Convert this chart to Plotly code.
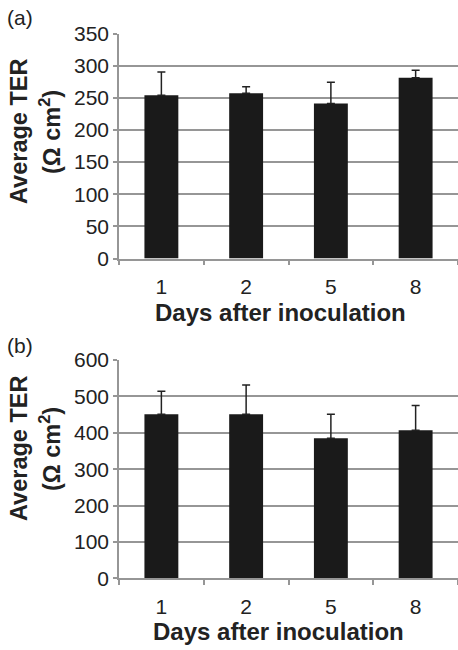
import plotly.graph_objects as go

days = ["1", "2", "5", "8"]
ter_a = [254, 257, 241, 281]
err_a = [36, 10, 33, 12]
ter_b = [451, 451, 385, 407]
err_b = [63, 80, 66, 68]
yticks_a = [0, 50, 100, 150, 200, 250, 300, 350]
yticks_b = [0, 100, 200, 300, 400, 500, 600]

W, H = 458, 650
FONT = "Liberation Sans, Arial, sans-serif"
TXT = "#222222"
GRID = "#969696"

fig = go.Figure()
for i, (vals, errs) in enumerate([(ter_a, err_a), (ter_b, err_b)]):
    fig.add_trace(go.Bar(
        x=days, y=vals,
        xaxis="x" if i == 0 else "x2",
        yaxis="y" if i == 0 else "y2",
        marker=dict(color="#1a1a1a", line=dict(width=0)),
        error_y=dict(type="data", array=errs, arrayminus=[0]*len(errs),
                     symmetric=False, color="#222222", thickness=1.5, width=4),
        showlegend=False,
    ))

xd = [119 / W, 1.0]
def ydom(top_px, bot_px):
    return [1 - bot_px / H, 1 - top_px / H]

common_x = dict(type="category", domain=xd, range=[-0.5, 3.5], showgrid=False,
                showline=True, linecolor=GRID, linewidth=1.5, ticks="outside",
                tickson="boundaries", ticklen=5, tickcolor=GRID, tickwidth=1.5,
                ticklabelstandoff=9, automargin=False,
                tickfont=dict(family=FONT, size=21, color=TXT), zeroline=False)
common_y = dict(showgrid=True, gridcolor=GRID, gridwidth=1.5, showline=True,
                linecolor=GRID, linewidth=1.5, ticks="outside", ticklen=4,
                tickcolor=GRID, tickwidth=1.5, zeroline=False, automargin=False,
                tickfont=dict(family=FONT, size=21, color=TXT))

fig.update_layout(
    width=W, height=H, autosize=False,
    margin=dict(l=0, r=0, t=0, b=0, pad=0, autoexpand=False),
    paper_bgcolor="white", plot_bgcolor="white",
    bargap=0.6,
    xaxis=dict(**common_x, anchor="y"),
    yaxis=dict(**common_y, domain=ydom(33.5, 258.5), range=[0, 350],
               tickvals=yticks_a, anchor="x"),
    xaxis2=dict(**common_x, anchor="y2"),
    yaxis2=dict(**common_y, domain=ydom(360, 578.3), range=[0, 600],
                tickvals=yticks_b, anchor="x2"),
)

def ann(text, x, y, size, bold=False, angle=0):
    fig.add_annotation(
        text=f"<b>{text}</b>" if bold else text, x=x / W, y=1 - y / H,
        xref="paper", yref="paper", showarrow=False, textangle=angle,
        xanchor="center", yanchor="middle",
        font=dict(family=FONT, size=size, color=TXT))

ann("(a)", 20, 18, 21)
ann("(b)", 20, 345, 21)
for cy in (132, 449):
    ann("Average TER", 19, cy, 23.5, bold=True, angle=-90)
    ann("(Ω cm<sup>2</sup>)", 50, cy, 23.5, bold=True, angle=-90)
ann("Days after inoculation", 280, 312, 24, bold=True)
ann("Days after inoculation", 278, 631, 24, bold=True)

fig.write_html("out.html", config={"displayModeBar": False},
               post_script="document.body.style.margin='0';document.documentElement.style.overflow='hidden';")
